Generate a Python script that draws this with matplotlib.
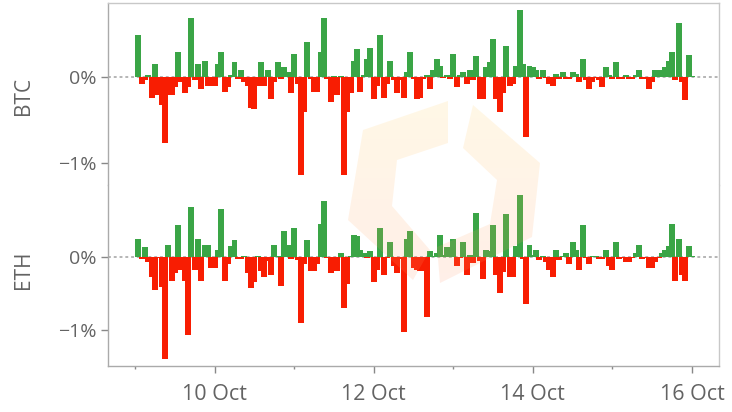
import numpy as np
import pandas as pd
import matplotlib
matplotlib.use('Agg')
import matplotlib.pyplot as plt
import matplotlib.dates as mdates
from matplotlib.patches import Polygon
from matplotlib.ticker import FixedLocator, FuncFormatter

plt.rcParams['font.family'] = ['Open Sans', 'DejaVu Sans']

# hourly returns in %, 9 Oct 00:00 .. 15 Oct 23:00
btc = [
    0.49, -0.08, -0.04, 0.02, -0.24, 0.15, -0.21, -0.32, -0.76, -0.21,
    -0.21, -0.12, 0.29, -0.06, -0.19, -0.12, 0.68, -0.04, 0.15, -0.14,
    0.19, -0.11, -0.11, -0.11, 0.15, 0.29, -0.17, -0.12, 0.02, 0.17,
    -0.02, 0.08, -0.06, -0.11, -0.36, -0.37, -0.11, 0.17, -0.11, 0.08,
    -0.25, -0.06, 0.17, -0.02, 0.11, 0.06, -0.19, 0.27, -0.08, -1.14,
    -0.40, 0.40, -0.02, -0.17, -0.17, 0.29, 0.68, -0.02, -0.29, 0.01,
    -0.21, 0.01, -1.14, -0.40, -0.19, 0.19, 0.32, -0.17, 0.02, 0.21,
    0.34, -0.25, -0.11, 0.49, -0.24, -0.08, 0.19, -0.04, -0.19, -0.04,
    -0.24, 0.06, 0.29, -0.02, -0.25, -0.24, -0.02, 0.02, -0.14, 0.08,
    0.21, 0.13, -0.01, 0.02, -0.02, 0.27, -0.12, 0.02, 0.06, -0.08,
    0.08, -0.04, 0.24, -0.25, -0.25, 0.11, 0.17, 0.44, -0.25, -0.40,
    -0.19, 0.36, -0.11, -0.08, 0.13, 0.77, 0.15, -0.70, 0.13, 0.11,
    0.08, -0.02, 0.08, -0.01, -0.08, -0.11, 0.04, -0.02, 0.06, -0.02,
    -0.02, 0.06, 0.04, -0.06, 0.21, -0.04, -0.14, -0.06, -0.01, -0.04,
    -0.12, 0.11, 0.02, -0.02, 0.17, -0.02, -0.02, 0.02, -0.02, -0.02,
    0.02, 0.08, -0.02, -0.02, -0.14, -0.06, 0.08, 0.08, 0.08, 0.11,
    0.19, 0.29, -0.04, 0.62, -0.06, -0.27, 0.26, 0.01]

eth = [
    0.25, -0.03, 0.13, -0.07, -0.27, -0.45, -0.02, -0.41, -1.39, 0.17,
    -0.33, -0.22, 0.43, -0.18, -0.33, -1.06, 0.68, -0.18, 0.25, -0.33,
    0.17, 0.17, -0.15, -0.15, 0.10, 0.65, -0.33, -0.10, 0.15, 0.23,
    -0.03, -0.03, 0.01, -0.22, -0.42, -0.34, 0.01, -0.19, -0.27, -0.05,
    -0.25, 0.17, 0.01, -0.40, 0.35, 0.17, -0.03, 0.40, -0.04, -0.90,
    -0.10, 0.23, -0.19, -0.19, -0.10, 0.45, 0.77, -0.02, -0.22, -0.03,
    -0.19, 0.05, -0.70, -0.37, 0.02, 0.30, 0.29, 0.10, 0.06, -0.02,
    0.08, -0.34, -0.18, 0.40, -0.25, -0.02, 0.20, -0.12, -0.22, -0.03,
    -1.02, 0.25, 0.35, -0.15, -0.18, -0.19, -0.19, -0.82, 0.08, 0.02,
    0.05, 0.30, 0.03, 0.13, 0.05, 0.25, -0.12, -0.02, 0.20, -0.25,
    0.03, -0.08, 0.60, -0.05, -0.30, 0.10, 0.08, 0.43, -0.25, -0.49,
    -0.20, 0.58, -0.27, -0.27, 0.15, 0.85, -0.03, -0.64, 0.17, 0.03,
    0.10, -0.04, 0.01, -0.07, -0.18, -0.27, 0.10, -0.04, 0.01, 0.05,
    -0.10, 0.20, 0.10, -0.18, 0.43, -0.02, -0.10, 0.02, 0.02, -0.03,
    -0.03, 0.10, -0.12, -0.18, 0.20, -0.03, -0.02, -0.07, -0.07, -0.02,
    0.05, 0.17, -0.03, -0.02, -0.15, -0.15, -0.07, -0.02, 0.05, 0.10,
    0.15, 0.45, -0.33, 0.25, -0.25, -0.33, 0.15, 0.01]

times = pd.date_range('2023-10-09 01:00', periods=len(btc), freq='h')
major_days = pd.to_datetime(['2023-10-10', '2023-10-12', '2023-10-14', '2023-10-16'])
minor_days = pd.to_datetime(['2023-10-09', '2023-10-11', '2023-10-13', '2023-10-15'])
x_start = pd.Timestamp('2023-10-08 15:50')
x_end = pd.Timestamp('2023-10-16 08:10')

GREEN = '#3aa546'
RED = '#f81d02'
TXT = '#636363'
AX_COL = '#aaaaaa'

fig = plt.figure(figsize=(7.32, 4.12), dpi=100)
W, H = 732, 412
left, right, top, mid, bottom = 108, 719, 3, 185, 366

ax_btc = fig.add_axes([left / W, 1 - mid / H, (right - left) / W, (mid - top) / H])
ax_eth = fig.add_axes([left / W, 1 - bottom / H, (right - left) / W, (bottom - mid) / H])


def draw_panel(ax, vals, name, ylim, label_y):
    cols = [GREEN if v >= 0 else RED for v in vals]
    ax.axhline(0, color='#b0b0b0', ls=(0, (1.6, 1.6)), lw=1.3, zorder=0)
    ax.bar(times, vals, width=1.8 / 24, color=cols, linewidth=0, zorder=2)
    ax.set_xlim(x_start, x_end)
    ax.set_ylim(*ylim)
    ax.yaxis.set_major_locator(FixedLocator([0, -1]))
    ax.yaxis.set_major_formatter(FuncFormatter(
        lambda v, p: ('\u2212' if v < 0 else '') + '%d%%' % abs(v)))
    ax.tick_params(axis='y', direction='out', length=5, width=1, color='#888888',
                   labelcolor=TXT, labelsize=14, pad=3)
    ax.set_ylabel(name, color=TXT, fontsize=15)
    ax.yaxis.set_label_coords(-0.121, label_y)
    for s in ax.spines.values():
        s.set_color('#c8c8c8')
        s.set_linewidth(1)
    ax.spines['left'].set_color(AX_COL)


draw_panel(ax_btc, btc, 'BTC', (-1.25, 0.856), 0.49)
draw_panel(ax_eth, eth, 'ETH', (-1.487, 0.982), 0.53)

ax_btc.spines['bottom'].set_visible(False)
ax_btc.tick_params(axis='x', which='both', bottom=False, labelbottom=False)
ax_eth.spines['top'].set_visible(False)
ax_eth.spines['bottom'].set_color(AX_COL)

ax_eth.xaxis.set_major_locator(FixedLocator(mdates.date2num(major_days)))
ax_eth.xaxis.set_minor_locator(FixedLocator(mdates.date2num(minor_days)))
ax_eth.xaxis.set_major_formatter(mdates.DateFormatter('%d %b'))
ax_eth.tick_params(axis='x', which='major', direction='out', length=5, width=1,
                   color='#888888', labelcolor=TXT, labelsize=15.5, pad=8)
ax_eth.tick_params(axis='x', which='minor', direction='out', length=2.5, width=1,
                   color='#888888')

# faint watermark logo on top of the bars
wm = fig.add_axes([0, 0, 1, 1], zorder=5)
wm.set_xlim(0, W)
wm.set_ylim(H, 0)
wm.axis('off')
wm.patch.set_alpha(0)
shapes = [
    [(448, 101), (363, 130), (348, 220), (413, 280), (430, 250),
     (392, 206), (397, 160), (448, 143)],
    [(473, 105), (540, 163), (532, 237), (440, 283), (437, 247),
     (490, 224), (497, 180), (463, 148)],
]
grad = np.zeros((64, 1, 4))
g = np.linspace(0, 1, 64)
grad[:, 0, 0] = 1.0
grad[:, 0, 1] = 0.82 - 0.25 * g
grad[:, 0, 2] = 0.35 + 0.05 * g
grad[:, 0, 3] = 0.15
for pts in shapes:
    poly = Polygon(pts, closed=True, facecolor='none', edgecolor='none')
    wm.add_patch(poly)
    im = wm.imshow(grad, extent=(340, 550, 290, 95), aspect='auto',
                   interpolation='bilinear', zorder=6)
    im.set_clip_path(poly)

fig.savefig('out.png', dpi=100)
